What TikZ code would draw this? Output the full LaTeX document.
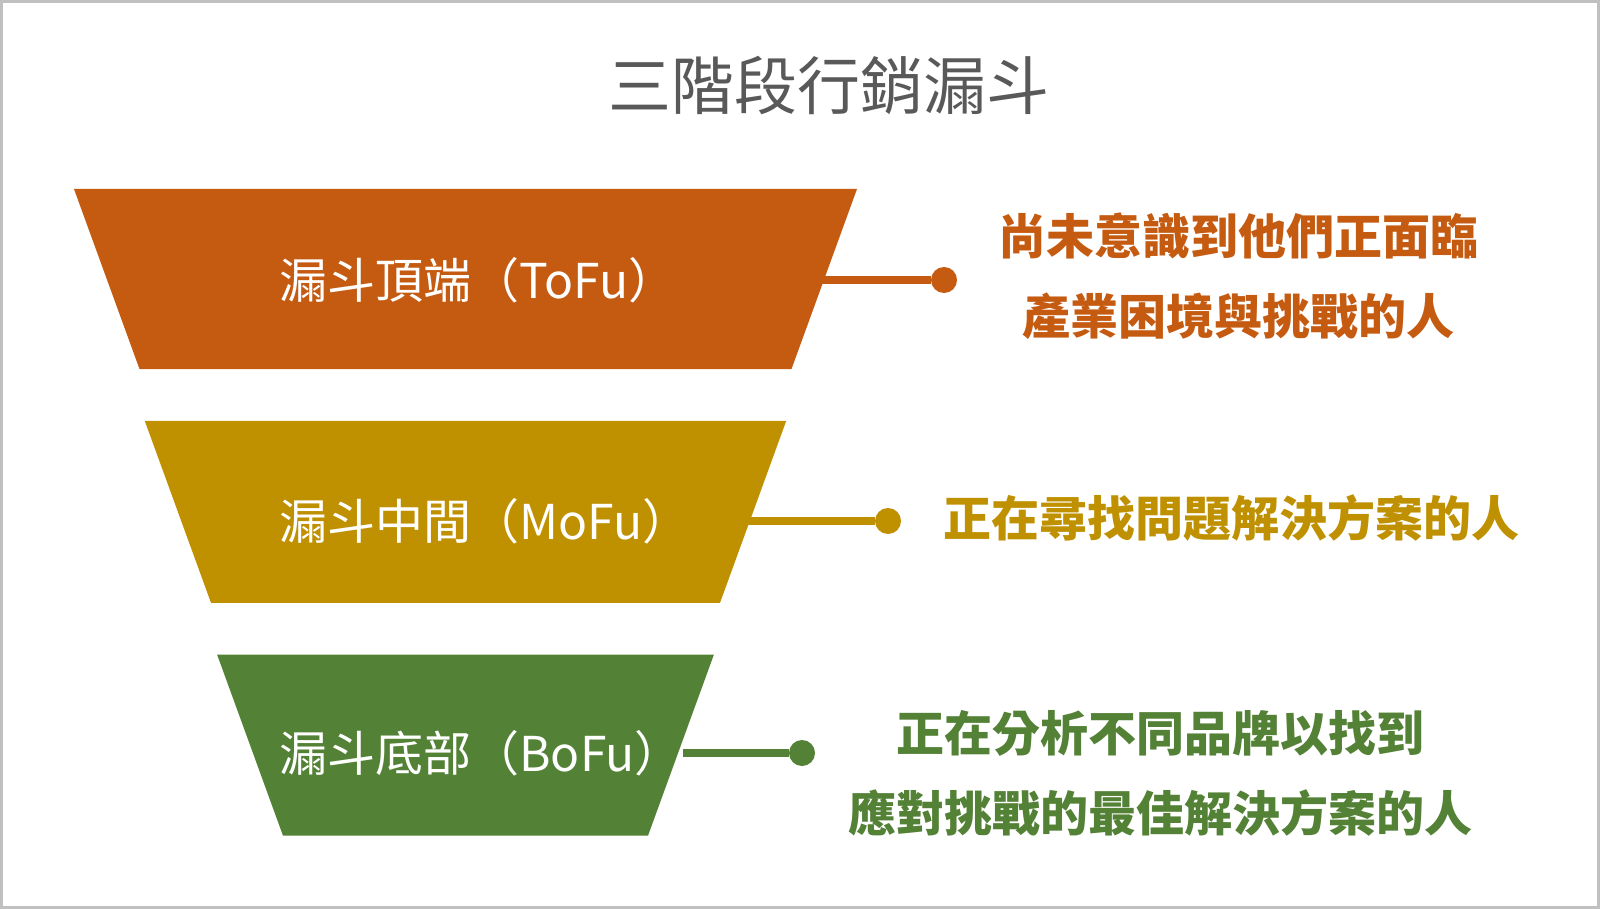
\documentclass[tikz,border=0pt]{standalone}
\usepackage{fontspec}
\newfontfamily\cjk{Noto Sans CJK TC}
\usepackage{xcolor}
\usepackage{tikz}
\usetikzlibrary{shapes.geometric}
\usetikzlibrary{positioning}
\usetikzlibrary{backgrounds}
\definecolor{tofu}{HTML}{C55A11}
\definecolor{mofu}{HTML}{BF9000}
\definecolor{bofu}{HTML}{538135}
\definecolor{titlegray}{HTML}{595959}
\definecolor{framegray}{HTML}{C0C0C0}

\begin{document}
\begin{tikzpicture}[x=0.5pt,y=-0.5pt,-,node distance=25.5pt]
  \tikzstyle{funnel}=[trapezium, shape border rotate=180, trapezium angle=70, draw=none]
  \tikzstyle{stage}=[font=\cjk\fontsize{24}{28}\selectfont, text=white, inner sep=0pt, anchor=west]
  \tikzstyle{dot}=[circle, minimum size=13pt, inner sep=0pt]
  \tikzstyle{note}=[font=\cjk\bfseries\fontsize{24}{40}\selectfont, align=center, inner sep=0pt]
  \tikzstyle{link}=[line width=3.75pt]
  \useasboundingbox (0,0) rectangle (1600,909);
  \draw[framegray, line width=1.5pt] (1.5,1.5) rectangle (1598.5,907.5);
  \node[font=\cjk\fontsize{31.5}{36}\selectfont, text=titlegray] (title) at (829,85) {三階段行銷漏斗};

  \node[funnel, fill=tofu, inner xsep=163pt, inner ysep=45pt] (ToFu) at (465.5,279) {};
  \node[funnel, fill=mofu, inner xsep=127.25pt, inner ysep=45.5pt, below=of ToFu] (MoFu) {};
  \node[funnel, fill=bofu, inner xsep=91.25pt, inner ysep=45.25pt, below=of MoFu] (BoFu) {};

  \node[stage] (ToFuLabel) at (279,280) {漏斗頂端（ToFu）};
  \node[stage] (MoFuLabel) at (279,521) {漏斗中間（MoFu）};
  \node[stage] (BoFuLabel) at (279,753) {漏斗底部（BoFu）};

  \node[dot, fill=tofu] (ToFuDot) at (944,280) {};
  \node[dot, fill=mofu] (MoFuDot) at (888,521) {};
  \node[dot, fill=bofu] (BoFuDot) at (802,753) {};

  \begin{pgfonlayer}{background}
    \draw[link, tofu] (ToFuLabel) -- (ToFuDot);
    \draw[link, mofu] (MoFuLabel) -- (MoFuDot);
    \draw[link, bofu] (BoFuLabel) -- (BoFuDot);
  \end{pgfonlayer}

  \node[note, text=tofu] (ToFuNote) at (1238,276) {尚未意識到他們正面臨\\產業困境與挑戰的人};
  \node[note, text=mofu] (MoFuNote) at (1231,518) {正在尋找問題解決方案的人};
  \node[note, text=bofu] (BoFuNote) at (1160,773) {正在分析不同品牌以找到\\應對挑戰的最佳解決方案的人};
\end{tikzpicture}
\end{document}
